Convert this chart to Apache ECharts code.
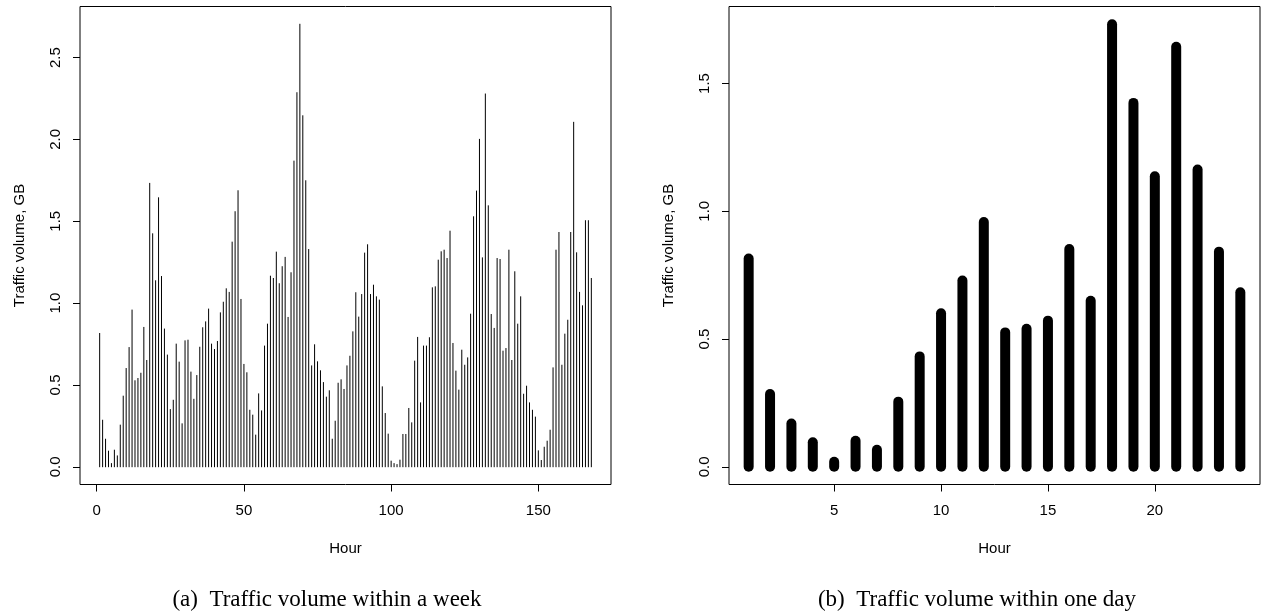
<!DOCTYPE html>
<html>
<head>
<meta charset="utf-8">
<script src="https://cdn.jsdelivr.net/npm/echarts@6/dist/echarts.min.js"></script>
<style>
  html, body { margin: 0; padding: 0; background: #fff; }
  #chart { width: 1268px; height: 615px; }
</style>
</head>
<body>
<div id="chart"></div>
<script>
// Hourly traffic volume (GB), one array per day of the week
const day1 = [0.815, 0.285, 0.169, 0.096, 0.020, 0.102, 0.067, 0.255, 0.432, 0.601, 0.729, 0.958,
              0.526, 0.540, 0.572, 0.852, 0.650, 1.732, 1.424, 1.137, 1.644, 1.163, 0.842, 0.683];
const day2 = [0.350, 0.407, 0.750, 0.640, 0.263, 0.770, 0.774, 0.579, 0.413, 0.558, 0.731, 0.850,
              0.886, 0.964, 0.750, 0.717, 0.766, 0.941, 1.006, 1.088, 1.066, 1.373, 1.559, 1.687];
const day3 = [1.023, 0.626, 0.575, 0.346, 0.316, 0.194, 0.446, 0.342, 0.738, 0.872, 1.165, 1.151,
              1.312, 1.119, 1.223, 1.280, 0.913, 1.186, 1.868, 2.286, 2.704, 2.145, 1.748, 1.328];
const day4 = [0.617, 0.746, 0.642, 0.587, 0.515, 0.426, 0.465, 0.169, 0.279, 0.511, 0.532, 0.473,
              0.617, 0.676, 0.825, 1.064, 0.915, 1.053, 1.306, 1.357, 1.053, 1.110, 1.039, 1.019];
const day5 = [0.489, 0.326, 0.200, 0.035, 0.020, 0.014, 0.041, 0.198, 0.198, 0.357, 0.269, 0.646,
              0.791, 0.391, 0.738, 0.738, 0.789, 1.094, 1.100, 1.263, 1.314, 1.324, 1.273, 1.440];
const day6 = [0.754, 0.585, 0.469, 0.713, 0.621, 0.666, 0.933, 1.528, 1.685, 2.001, 1.277, 2.278,
              1.595, 0.931, 0.846, 1.273, 1.267, 0.707, 0.723, 1.324, 0.650, 1.192, 0.872, 1.039];
const day7 = [0.444, 0.493, 0.391, 0.346, 0.304, 0.098, 0.039, 0.120, 0.157, 0.224, 0.605, 1.324,
              1.432, 0.621, 0.811, 0.896, 1.432, 2.105, 1.308, 1.066, 0.984, 1.504, 1.504, 1.151];

const weekTraffic = [].concat(day1, day2, day3, day4, day5, day6, day7);
const dayTraffic = day1;

// Tick marks
const weekXTicks = [0, 50, 100, 150];
const weekYTicks = [0, 0.5, 1.0, 1.5, 2.0, 2.5];
const dayXTicks = [5, 10, 15, 20];
const dayYTicks = [0, 0.5, 1.0, 1.5];

const captionA = '(a)  Traffic volume within a week';
const captionB = '(b)  Traffic volume within one day';

// Pairs [hour, volume], hours numbered from 1
const toPoints = vals => vals.map((v, i) => [i + 1, v]);

// Axis range padded by 4% on each side
function padRange(lo, hi) {
  const d = (hi - lo) * 0.04;
  return [lo - d, hi + d];
}

const SANS = '"Liberation Sans", Arial, sans-serif';
const SERIF = '"Liberation Serif", "Times New Roman", serif';

function spikes(width) {
  return function (params, api) {
    const x = api.value(0), v = api.value(1);
    const p0 = api.coord([x, 0]);
    const p1 = api.coord([x, v]);
    return {
      type: 'line',
      shape: { x1: p0[0], y1: p0[1], x2: p1[0], y2: p1[1] },
      style: { stroke: '#000', lineWidth: width, lineCap: 'round' }
    };
  };
}

function xAxisFor(gridIndex, n, ticks) {
  const r = padRange(1, n);
  return {
    gridIndex, type: 'value', min: r[0], max: r[1],
    axisLine: { show: false, onZero: false },
    splitLine: { show: false },
    axisTick: { show: true, inside: false, length: 7, lineStyle: { color: '#000', width: 1 }, customValues: ticks },
    axisLabel: { customValues: ticks, color: '#000', fontFamily: SANS, fontSize: 15, margin: 19 },
    name: 'Hour', nameLocation: 'middle', nameGap: 57,
    nameTextStyle: { color: '#000', fontFamily: SANS, fontSize: 15 }
  };
}

function yAxisFor(gridIndex, vals, ticks) {
  const r = padRange(0, Math.max(...vals));
  return {
    gridIndex, type: 'value', min: r[0], max: r[1],
    axisLine: { show: false, onZero: false },
    splitLine: { show: false },
    axisTick: { show: true, inside: false, length: 7, lineStyle: { color: '#000', width: 1 }, customValues: ticks },
    axisLabel: {
      customValues: ticks, rotate: 90, color: '#000', fontFamily: SANS, fontSize: 15, margin: 17,
      formatter: v => v.toFixed(1)
    },
    name: 'Traffic volume, GB', nameLocation: 'middle', nameGap: 53, nameRotate: 90,
    nameTextStyle: { color: '#000', fontFamily: SANS, fontSize: 15 }
  };
}

const chart = echarts.init(document.getElementById('chart'), null, { renderer: 'canvas' });

chart.setOption({
  animation: false,
  backgroundColor: '#fff',
  grid: [
    { left: 80, top: 6.5, width: 531, height: 478, show: true, borderColor: '#000', borderWidth: 1, backgroundColor: 'transparent' },
    { left: 729, top: 6.5, width: 531, height: 478, show: true, borderColor: '#000', borderWidth: 1, backgroundColor: 'transparent' }
  ],
  xAxis: [
    xAxisFor(0, weekTraffic.length, weekXTicks),
    xAxisFor(1, dayTraffic.length, dayXTicks)
  ],
  yAxis: [
    yAxisFor(0, weekTraffic, weekYTicks),
    yAxisFor(1, dayTraffic, dayYTicks)
  ],
  series: [
    {
      type: 'custom', xAxisIndex: 0, yAxisIndex: 0, silent: true,
      encode: { x: 0, y: 1 },
      data: toPoints(weekTraffic),
      renderItem: spikes(1)
    },
    {
      type: 'custom', xAxisIndex: 1, yAxisIndex: 1, silent: true,
      encode: { x: 0, y: 1 },
      data: toPoints(dayTraffic),
      renderItem: spikes(10)
    }
  ],
  graphic: [
    { type: 'text', x: 327, y: 600, style: { text: captionA, font: '23px ' + SERIF, fill: '#000', textAlign: 'center', textVerticalAlign: 'middle' } },
    { type: 'text', x: 977, y: 600, style: { text: captionB, font: '23px ' + SERIF, fill: '#000', textAlign: 'center', textVerticalAlign: 'middle' } }
  ]
});
</script>
</body>
</html>
